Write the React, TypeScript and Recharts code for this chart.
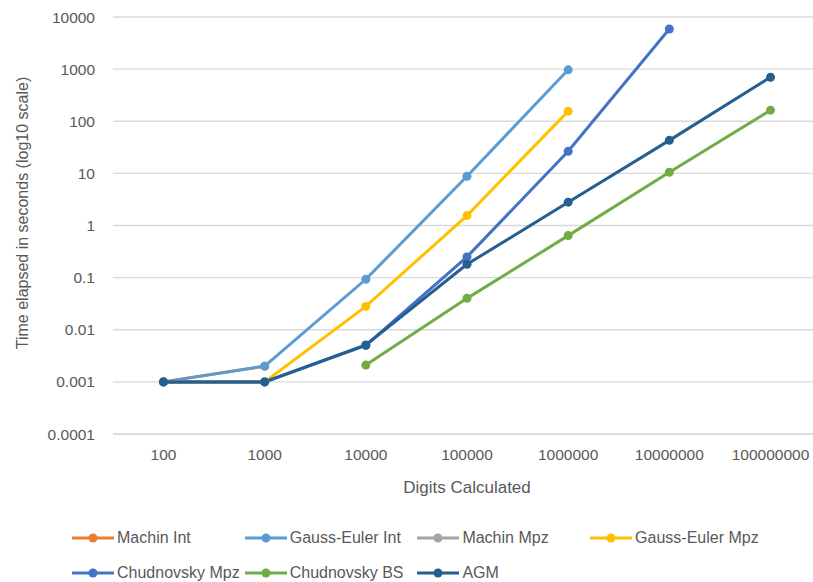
import { LineChart, Line, XAxis, YAxis, CartesianGrid, Legend } from 'recharts';

// digits calculated (category axis)
const digits = ['100', '1000', '10000', '100000', '1000000', '10000000', '100000000'];

// time elapsed in seconds, per algorithm
const machinInt = [0.001, 0.002, null, null, null, null, null];
const gaussEulerInt = [0.001, 0.002, 0.093, 8.8, 970, null, null];
const machinMpz = [0.001, 0.001, null, null, null, null, null];
const gaussEulerMpz = [0.001, 0.001, 0.028, 1.55, 156, null, null];
const chudnovskyMpz = [0.001, 0.001, 0.005, 0.25, 26.5, 5900, null];
const chudnovskyBS = [null, null, 0.0021, 0.04, 0.64, 10.5, 163];
const agm = [0.001, 0.001, 0.0051, 0.18, 2.8, 43, 700];

const yTicks = [0.0001, 0.001, 0.01, 0.1, 1, 10, 100, 1000, 10000];

const series = [
  { key: 'Machin Int', values: machinInt, color: '#ED7D31' },
  { key: 'Gauss-Euler Int', values: gaussEulerInt, color: '#5B9BD5' },
  { key: 'Machin Mpz', values: machinMpz, color: '#A5A5A5' },
  { key: 'Gauss-Euler Mpz', values: gaussEulerMpz, color: '#FFC000' },
  { key: 'Chudnovsky Mpz', values: chudnovskyMpz, color: '#4472C4' },
  { key: 'Chudnovsky BS', values: chudnovskyBS, color: '#70AD47' },
  { key: 'AGM', values: agm, color: '#255E91' },
];

const data = digits.map((d, i) => {
  const row: Record<string, any> = { digits: d };
  series.forEach((s) => {
    row[s.key] = s.values[i];
  });
  return row;
});

const FONT = '"Liberation Sans", Arial, sans-serif';
const TEXT = '#595959';

function LegendBox() {
  return (
    <div
      style={{
        display: 'grid',
        gridTemplateColumns: 'repeat(4, 172.7px)',
        rowGap: 13,
        paddingLeft: 72,
        fontFamily: FONT,
        fontSize: 16,
        color: TEXT,
      }}
    >
      {series.map((s) => (
        <div key={s.key} style={{ display: 'flex', alignItems: 'center', height: 22 }}>
          <svg width={42} height={12} style={{ marginRight: 3 }}>
            <line x1={0} y1={6} x2={42} y2={6} stroke={s.color} strokeWidth={3} />
            <circle cx={21} cy={6} r={4.5} fill={s.color} />
          </svg>
          <span style={{ whiteSpace: 'nowrap' }}>{s.key}</span>
        </div>
      ))}
    </div>
  );
}

export default function App() {
  return (
    <div
      style={{
        position: 'absolute',
        left: 0,
        top: 0,
        width: 813,
        height: 582,
        overflow: 'hidden',
        background: '#fff',
      }}
    >
      <LineChart
        width={830}
        height={582}
        data={data}
        margin={{ top: 17, right: 9, bottom: 0, left: 0 }}
      >
        <CartesianGrid stroke="#d9d9d9" strokeWidth={1.3} vertical={false} />
        <XAxis
          dataKey="digits"
          axisLine={{ stroke: '#d9d9d9', strokeWidth: 1.3 }}
          tickLine={false}
          tickMargin={9}
          height={148}
          padding={{ left: 50.5, right: 50.5 }}
          tick={{ fill: TEXT, fontSize: 15.5, fontFamily: FONT }}
          interval={0}
          label={{
            content: () => (
              <text x={467} y={493} textAnchor="middle" fill={TEXT} fontSize={17} fontFamily={FONT}>
                Digits Calculated
              </text>
            ),
          }}
        />
        <YAxis
          scale="log"
          domain={[0.0001, 10000]}
          ticks={yTicks}
          allowDataOverflow
          width={113}
          axisLine={false}
          tickLine={false}
          tickMargin={12}
          tick={{ fill: TEXT, fontSize: 15.5, fontFamily: FONT }}
          label={{
            content: () => (
              <text
                x={22}
                y={213}
                transform="rotate(-90 22 213)"
                textAnchor="middle"
                dominantBaseline="central"
                fill={TEXT}
                fontSize={16}
                fontFamily={FONT}
              >
                Time elapsed in seconds (log10 scale)
              </text>
            ),
          }}
        />
        <Legend
          layout="horizontal"
          verticalAlign="middle"
          align="center"
          content={() => <LegendBox />}
          wrapperStyle={{ position: 'absolute', left: 0, top: 527, width: 813 }}
        />
        {series.map((s) => (
          <Line
            key={s.key}
            type="linear"
            dataKey={s.key}
            stroke={s.color}
            strokeWidth={3}
            dot={{ r: 4.5, fill: s.color, stroke: s.color, strokeWidth: 0 }}
            activeDot={false}
            connectNulls={false}
            isAnimationActive={false}
          />
        ))}
      </LineChart>
    </div>
  );
}
